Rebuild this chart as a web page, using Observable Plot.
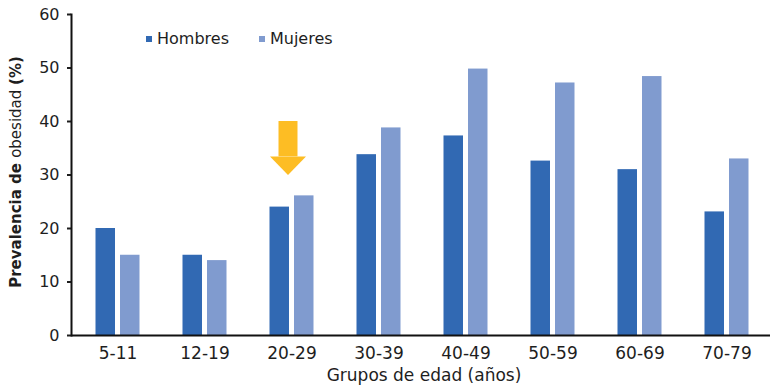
<!DOCTYPE html>
<html>
<head>
<meta charset="utf-8">
<script src="https://cdn.jsdelivr.net/npm/d3@7"></script>
<script src="https://cdn.jsdelivr.net/npm/@observablehq/plot@0.6"></script>
<style>
  body { margin: 0; background: #fff; }
  #chart { position: relative; width: 770px; height: 386px; font-family: "DejaVu Sans", sans-serif; color: #1e1e1e; }
  #legend { position: absolute; left: 146px; top: 29px; display: flex; font-size: 16px; }
  #legend .item { display: flex; align-items: center; margin-right: 30px; }
  #legend .sw { width: 6px; height: 6px; margin-right: 5px; }
</style>
</head>
<body>
<div id="chart"></div>
<script>
// Prevalence of obesity (%) by age group and sex
const groups = ["5-11", "12-19", "20-29", "30-39", "40-49", "50-59", "60-69", "70-79"];
const hombres = [20, 15, 24, 33.8, 37.3, 32.6, 31, 23.1];
const mujeres = [15, 14, 26.1, 38.8, 49.8, 47.2, 48.4, 33];
const series = ["Hombres", "Mujeres"];
const colors = ["#3169b3", "#809bcf"];
const yTicks = [0, 10, 20, 30, 40, 50, 60];
const yTitle = [["Prevalencia de ", "bold"], ["obesidad ", "normal"], ["(%)", "bold"]];
const xTitle = "Grupos de edad (años)";
// highlighted group: arrow from 40 down to 30
const arrowMark = [{group: "20-29", top: 40, neck: 33.4, tip: 30}];

const rowsH = groups.map((g, i) => ({group: g, sex: series[0], value: hombres[i]}));
const rowsM = groups.map((g, i) => ({group: g, sex: series[1], value: mujeres[i]}));

const arrowColor = "#fdbd24";
// downward triangular arrow head, tip at origin
const arrowHead = {
  draw(ctx) {
    ctx.moveTo(-18, -18.5);
    ctx.lineTo(18, -18.5);
    ctx.lineTo(0, 0);
    ctx.closePath();
  }
};

const chart = Plot.plot({
  width: 770,
  height: 386,
  marginLeft: 71,
  marginRight: 0,
  marginTop: 14,
  marginBottom: 51,
  style: {fontFamily: "DejaVu Sans, sans-serif", fontSize: "16px", color: "#1e1e1e", background: "white"},
  x: {domain: groups, range: [74, 770], padding: 0, axis: null},
  y: {domain: [0, 60], axis: null},
  color: {domain: series, range: colors},
  marks: [
    Plot.barY(rowsH, {x: "group", y: "value", fill: "sex", insetLeft: 21.5, insetRight: 46}),
    Plot.barY(rowsM, {x: "group", y: "value", fill: "sex", insetLeft: 46, insetRight: 21.5}),
    Plot.ruleX(arrowMark, {x: "group", y1: "top", y2: "neck", stroke: arrowColor, strokeWidth: 19, dx: -4}),
    Plot.dot(arrowMark, {x: "group", y: "tip", symbol: arrowHead, fill: arrowColor, stroke: "none", dx: -4}),
    Plot.axisY({ticks: yTicks, tickSize: 4, tickPadding: 8, strokeWidth: 2, label: null, fontSize: 16}),
    Plot.axisX({tickSize: 0, tickPadding: 11, label: null, fontSize: 17}),
    Plot.ruleY([0], {strokeWidth: 2, stroke: "#111"}),
    Plot.frame({anchor: "left", strokeWidth: 2, stroke: "#111"}),
    Plot.text([xTitle], {frameAnchor: "bottom", lineAnchor: "middle", dy: 40, dx: 3, fontSize: 17, fill: "#1e1e1e"})
  ]
});

// rotated y-axis title with mixed weights
const t = d3.select(chart).append("text")
  .attr("transform", "translate(21,172) rotate(-90)")
  .attr("text-anchor", "middle")
  .attr("font-size", 15)
  .attr("fill", "#1e1e1e");
yTitle.forEach(([s, w]) => t.append("tspan").attr("font-weight", w).text(s));

const root = document.getElementById("chart");
root.appendChild(chart);

const legend = document.createElement("div");
legend.id = "legend";
series.forEach((s, i) => {
  const item = document.createElement("div");
  item.className = "item";
  const sw = document.createElement("span");
  sw.className = "sw";
  sw.style.background = colors[i];
  const lab = document.createElement("span");
  lab.textContent = s;
  item.appendChild(sw);
  item.appendChild(lab);
  legend.appendChild(item);
});
root.appendChild(legend);
</script>
</body>
</html>
